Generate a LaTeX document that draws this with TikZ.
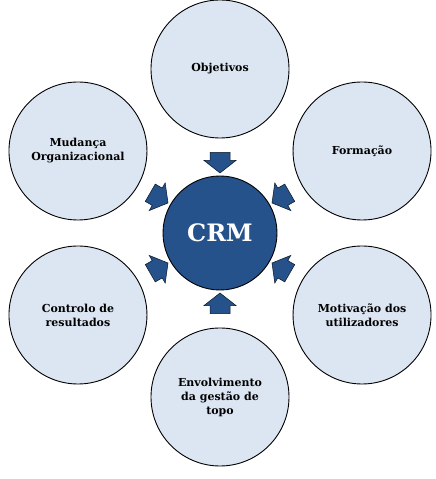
\documentclass[tikz,border=0pt]{standalone}
\usepackage{fontspec}
\setmainfont{DejaVu Serif}
\usetikzlibrary{
    positioning,                      % right=of, below=of, etc.
    calc                              % ($(a)!0.4!(b)$)
}
\definecolor{crm_dark}{RGB}{38,82,140}
\definecolor{circle_light}{RGB}{220,230,242}
\tikzset{
    topic/.style={
        circle, draw=black, line width=0.9pt, fill=circle_light,
        minimum size=138pt, inner sep=2pt,
        align=center, font=\bfseries\fontsize{11}{14}\selectfont
    },
    core/.style={
        circle, draw=black, line width=0.9pt, fill=crm_dark,
        minimum size=114pt, inner sep=0pt,
        text=white, font=\bfseries\fontsize{24}{28}\selectfont
    },
    arrowfill/.style={
        draw=black!75!crm_dark, line width=0.5pt, fill=crm_dark
    },
    % seta de bloco, ponta para +x
    pics/blockarrow/.style={
        code={
            \draw[arrowfill] (-10,-10) -- (-2,-10) -- (-2,-16) -- (10.5,0)
                -- (-2,16) -- (-2,10) -- (-10,10) -- cycle;
        }
    }
}

\begin{document}
\begin{tikzpicture}[x=1pt, y=1pt]
    \useasboundingbox (0,0) rectangle (436,479);

    \node[core] (crm) at (220,246) {CRM};

    % --- Circulos exteriores ---
    \node[topic] (obj)  at ($(crm)+(90:164)$)  {Objetivos};
    \node[topic] (form) at ($(crm)+(30:164)$)  {Formação};
    \node[topic] (mot)  at ($(crm)+(-30:164)$) {Motivação dos\\utilizadores};
    \node[topic] (env)  at ($(crm)+(-90:164)$) {Envolvimento\\da gestão de\\topo};
    \node[topic] (ctrl) at ($(crm)+(210:164)$) {Controlo de\\resultados};
    \node[topic] (mud)  at ($(crm)+(150:164)$) {Mudança\\Organizacional};

    % --- Setas para o CRM ---
    \foreach \dest/\ang in {obj/90, form/30, mot/-30, env/-90, ctrl/210, mud/150}
        \pic[rotate=\ang+180] (arr-\dest) at ($(crm)!0.43!(\dest)$) {blockarrow};

\end{tikzpicture}
\end{document}
